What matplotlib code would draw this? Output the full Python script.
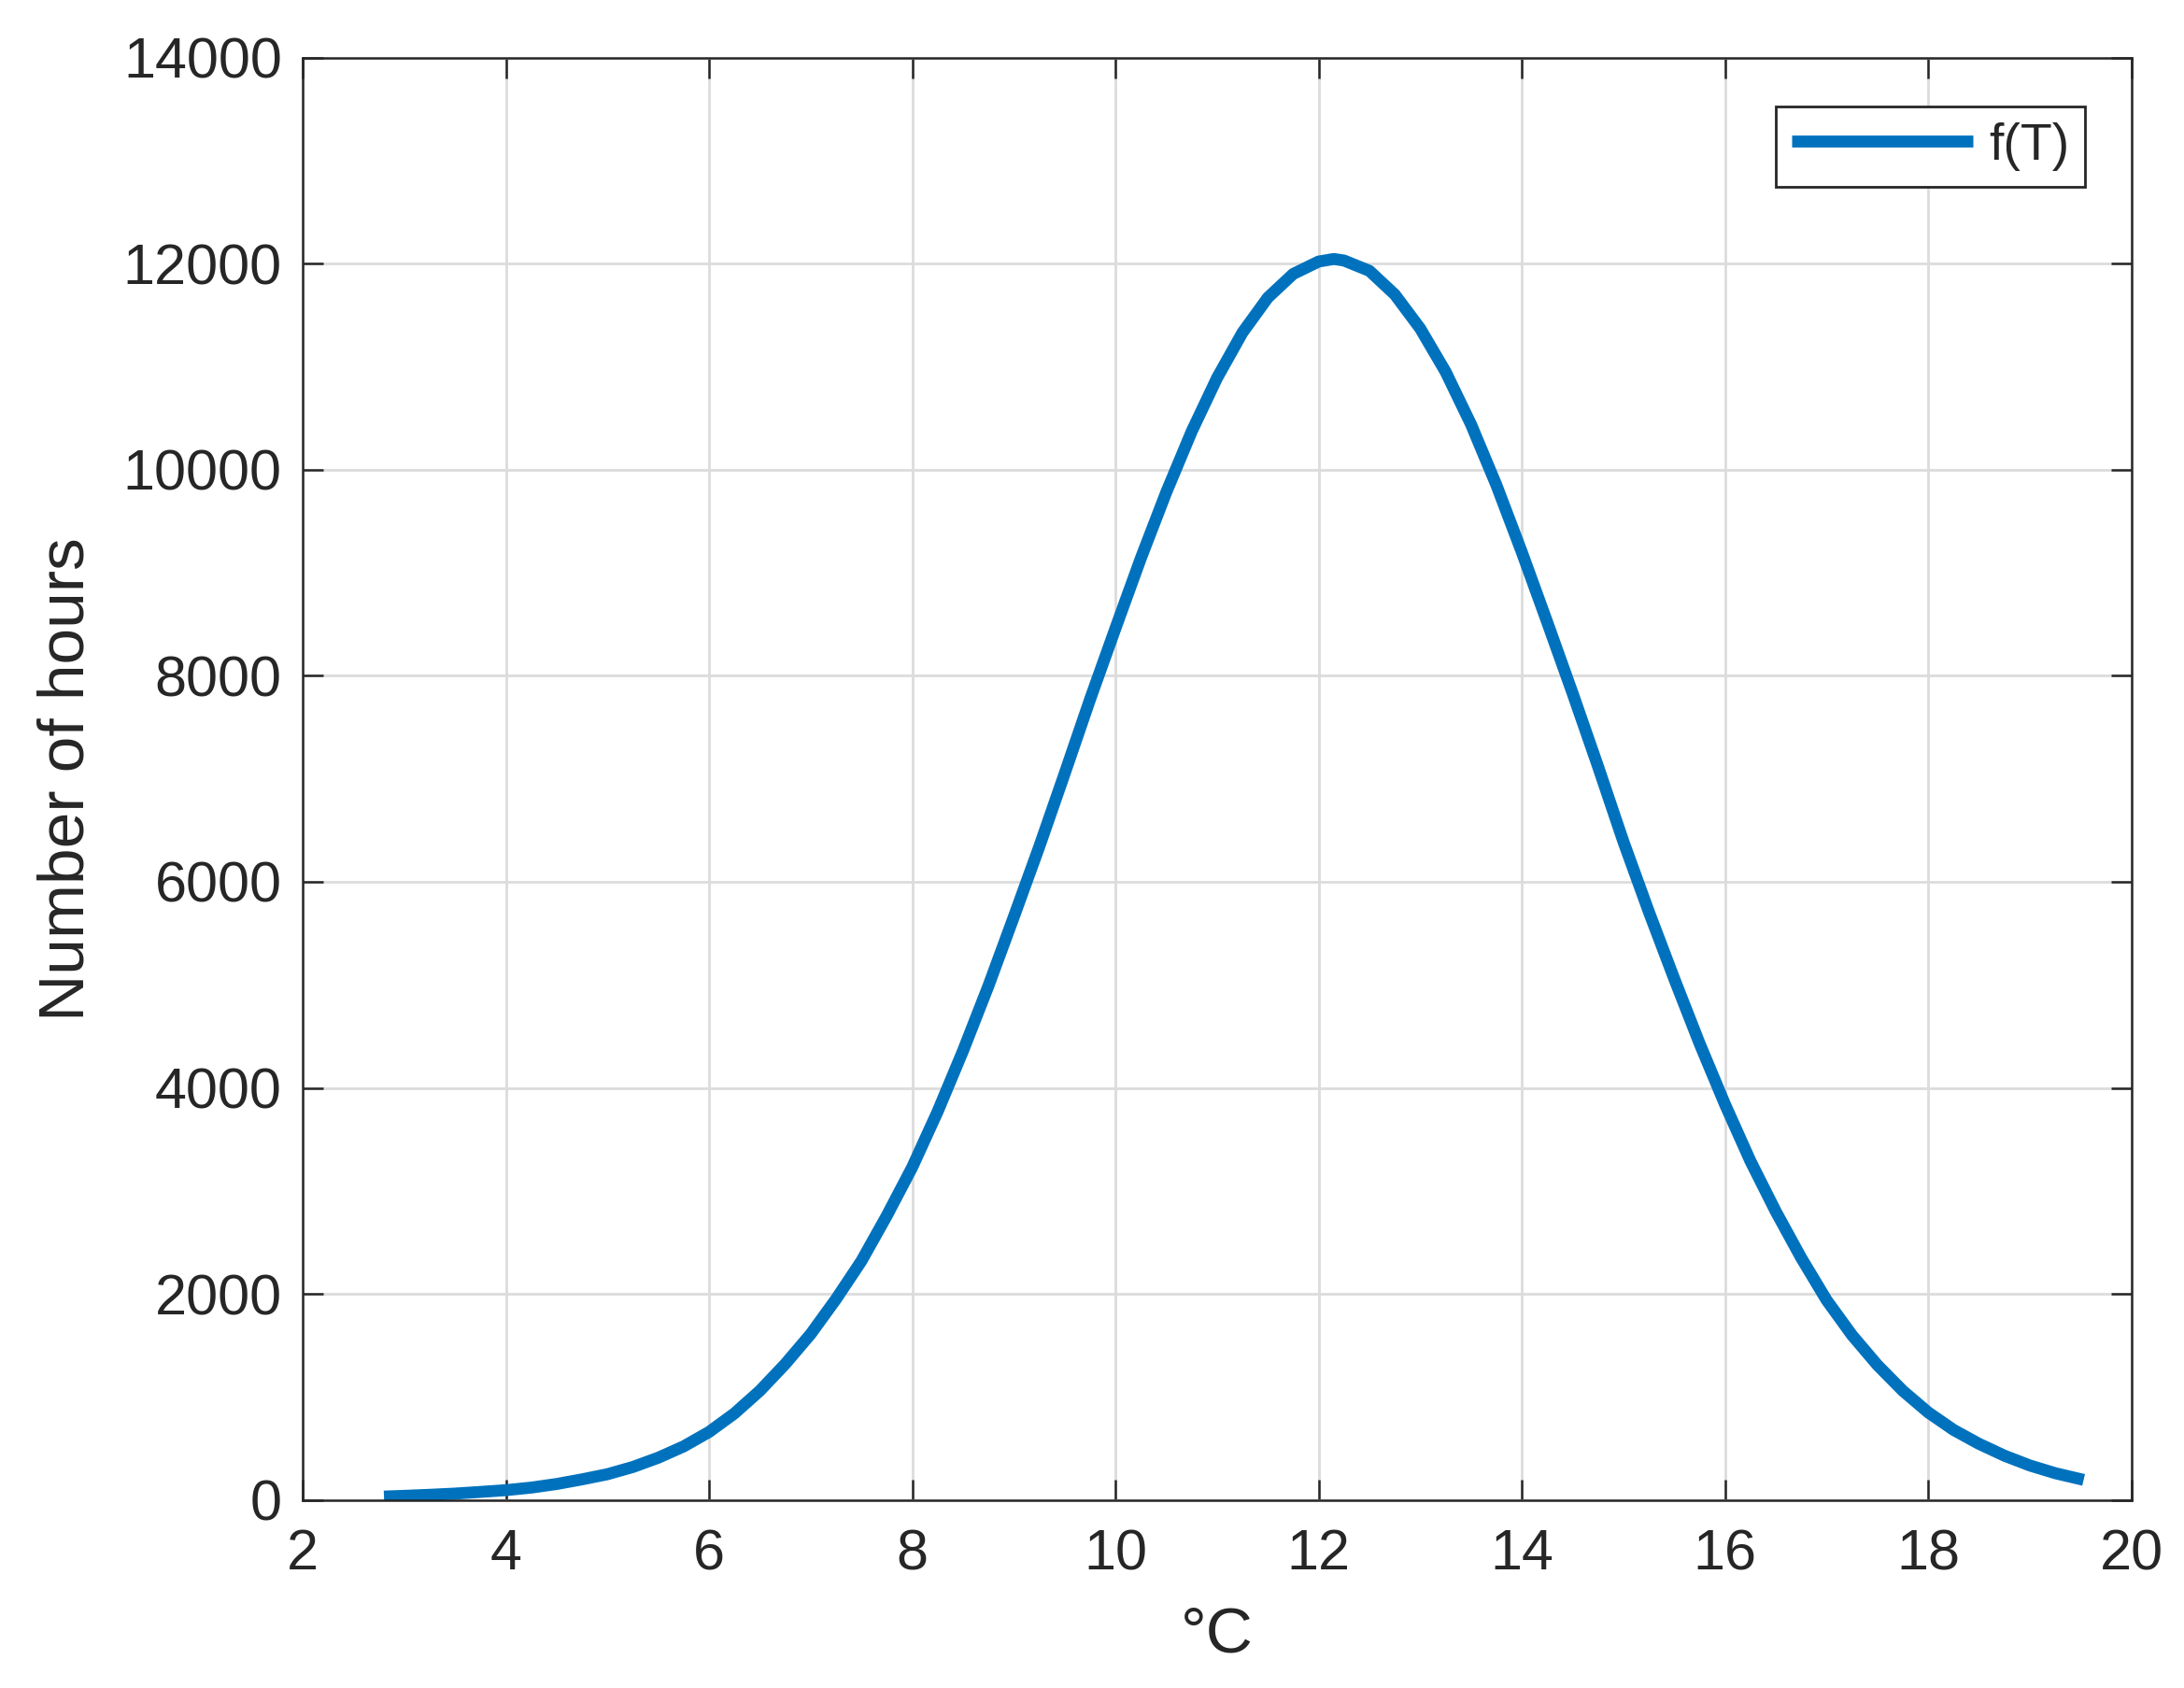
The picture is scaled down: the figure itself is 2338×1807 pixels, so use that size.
import matplotlib.pyplot as plt
import numpy as np

# MATLAB-like look
plt.rcParams['font.family'] = ['Liberation Sans', 'DejaVu Sans']
plt.rcParams['text.color'] = '#262626'
plt.rcParams['axes.labelcolor'] = '#262626'
plt.rcParams['xtick.color'] = '#262626'
plt.rcParams['ytick.color'] = '#262626'

# Data
temp_c = [2.8, 3.0, 3.25, 3.5, 3.75, 4.0, 4.25, 4.5, 4.75, 5.0, 5.25, 5.5, 5.75,
          6.0, 6.25, 6.5, 6.75, 7.0, 7.25, 7.5, 7.75, 8.0, 8.25, 8.5, 8.75,
          9.0, 9.25, 9.5, 9.75, 10.0, 10.25, 10.5, 10.75, 11.0, 11.25, 11.5, 11.75,
          12.0, 12.15, 12.25, 12.5, 12.75, 13.0, 13.25, 13.5, 13.75, 14.0, 14.25,
          14.5, 14.75, 15.0, 15.25, 15.5, 15.75, 16.0, 16.25, 16.5, 16.75, 17.0,
          17.25, 17.5, 17.75, 18.0, 18.25, 18.5, 18.75, 19.0, 19.25, 19.53]
hours = [33, 40, 50, 62, 78, 95, 120, 155, 200, 250, 320, 410, 520,
         660, 840, 1060, 1320, 1610, 1950, 2320, 2760, 3230, 3770, 4360, 4990,
         5660, 6340, 7050, 7770, 8460, 9140, 9780, 10370, 10890, 11330, 11670, 11900,
         12020, 12045, 12030, 11930, 11700, 11370, 10950, 10440, 9850, 9200, 8520,
         7830, 7120, 6390, 5710, 5060, 4430, 3840, 3290, 2800, 2350, 1940,
         1600, 1310, 1060, 850, 680, 545, 430, 335, 260, 195]

x_ticks = [2, 4, 6, 8, 10, 12, 14, 16, 18, 20]
y_ticks = [0, 2000, 4000, 6000, 8000, 10000, 12000, 14000]

fig = plt.figure(figsize=(11.69, 9.035), dpi=200)
ax = fig.add_axes([0.1386, 0.1114, 0.9759 - 0.1386, 0.9659 - 0.1114])

ax.plot(temp_c, hours, color='#0072BD', linewidth=4.6, solid_capstyle='butt',
        solid_joinstyle='round', label='f(T)')

ax.set_xlim(2, 20)
ax.set_ylim(0, 14000)
ax.set_xticks(x_ticks)
ax.set_yticks(y_ticks)
ax.set_xticklabels([str(t) for t in x_ticks])
ax.set_yticklabels([str(t) for t in y_ticks])

ax.grid(True, color='#DCDCDC', linewidth=1.0)
ax.set_axisbelow(True)

for s in ax.spines.values():
    s.set_color('#262626')
    s.set_linewidth(0.9)

ax.tick_params(axis='both', direction='in', length=8, width=0.9,
               top=True, right=True, labelsize=22)
ax.tick_params(axis='x', pad=11)
ax.tick_params(axis='y', pad=8)

ax.set_xlabel('°C', fontsize=25, labelpad=9)
ax.set_ylabel('Number of hours', fontsize=25, labelpad=10)

leg = ax.legend(loc='upper right', bbox_to_anchor=(0.9746, 0.9659), borderaxespad=0,
                fontsize=20, handlelength=3.5, handletextpad=0.3, borderpad=0.3,
                fancybox=False, framealpha=1, edgecolor='#262626')
leg.get_frame().set_linewidth(1.0)

fig.savefig('out.png', dpi=200)
